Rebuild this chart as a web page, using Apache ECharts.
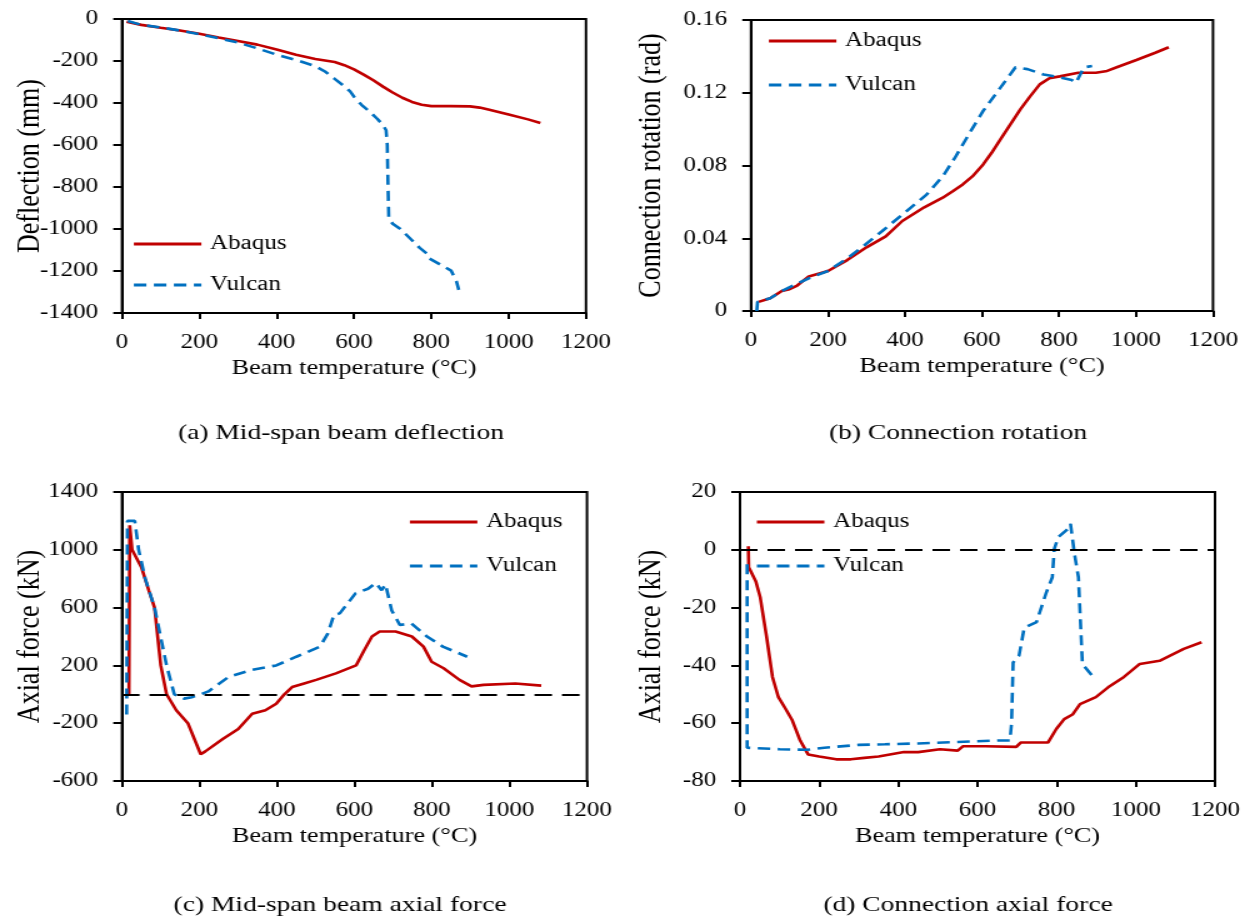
<!DOCTYPE html>
<html>
<head>
<meta charset="utf-8">
<script src="https://cdn.jsdelivr.net/npm/echarts@6/dist/echarts.min.js"></script>
<style>
  html, body { margin: 0; padding: 0; background: #fff; overflow: hidden; }
  /* the source figure is stretched sideways, so draw narrow and stretch */
  #chart { height: 922px; transform-origin: 0 0; }
</style>
</head>
<body>
<div id="chart"></div>
<script>
// (a) mid-span beam deflection
const defAbaqusT = [12, 50, 100, 150, 200, 250, 300, 350, 400, 450, 500, 550, 575, 600, 625, 650, 675, 700, 725, 750, 775, 800, 850, 900, 925, 950, 1000, 1050, 1082]
const defAbaqusV = [-13, -28, -42, -55, -70, -88, -105, -122, -145, -170, -190, -205, -220, -240, -265, -292, -322, -350, -375, -395, -408, -415, -415, -416, -422, -432, -455, -478, -495]
const defVulcanT = [15, 50, 100, 150, 200, 250, 300, 350, 400, 450, 500, 525, 550, 575, 590, 600, 620, 640, 660, 675, 683, 686, 688, 690, 700, 720, 748, 770, 789, 794, 820, 851, 865, 871]
const defVulcanV = [-10, -28, -40, -55, -72, -92, -112, -140, -170, -195, -225, -250, -285, -320, -345, -370, -410, -440, -475, -505, -530, -600, -800, -950, -975, -1000, -1050, -1090, -1118, -1140, -1166, -1198, -1250, -1290]

// (b) connection rotation
const rotAbaqusT = [20, 50, 80, 100, 120, 150, 200, 250, 300, 350, 393, 450, 498, 525, 550, 575, 603, 625, 650, 675, 700, 725, 750, 775, 802, 850, 896, 925, 950, 1001, 1050, 1085]
const rotAbaqusV = [0.005, 0.007, 0.011, 0.012, 0.014, 0.019, 0.022, 0.028, 0.035, 0.041, 0.0495, 0.057, 0.0623, 0.066, 0.0696, 0.074, 0.0806, 0.087, 0.095, 0.103, 0.111, 0.118, 0.1246, 0.128, 0.129, 0.131, 0.131, 0.132, 0.134, 0.138, 0.142, 0.145]
const rotVulcanT = [15, 17, 50, 80, 150, 200, 250, 288, 341, 393, 456, 498, 529, 571, 603, 645, 687, 718, 760, 791, 833, 844, 865, 886]
const rotVulcanV = [0, 0.005, 0.007, 0.011, 0.018, 0.022, 0.029, 0.035, 0.044, 0.053, 0.064, 0.074, 0.084, 0.099, 0.110, 0.122, 0.134, 0.133, 0.130, 0.129, 0.127, 0.1255, 0.134, 0.1347]

// (c) mid-span beam axial force
const beamAbaqusT = [18, 20, 26, 50, 69, 84, 100, 115, 140, 170, 203, 215, 260, 300, 336, 370, 398, 419, 439, 470, 501, 552, 604, 624, 645, 665, 706, 748, 778, 799, 830, 871, 902, 933, 1015, 1082]
const beamAbaqusV = [0, 1170, 1000, 880, 720, 600, 200, 0, -110, -200, -415, -395, -310, -240, -135, -110, -65, 0, 50, 75, 100, 145, 200, 300, 400, 435, 435, 400, 330, 225, 180, 100, 55, 65, 75, 60]
const beamVulcanT = [12, 14, 33, 43, 60, 84, 115, 135, 160, 180, 203, 223, 275, 336, 398, 450, 511, 531, 547, 562, 603, 635, 655, 670, 680, 696, 717, 747, 787, 828, 891]
const beamVulcanV = [-140, 1200, 1200, 1000, 800, 600, 200, 0, -30, -20, 0, 20, 120, 170, 200, 260, 330, 420, 550, 560, 700, 730, 770, 720, 760, 580, 480, 490, 400, 330, 260]

// (d) connection axial force
const conAbaqusT = [21, 22, 40, 51, 67, 82, 97, 115, 132, 152, 172, 200, 243, 280, 314, 350, 414, 450, 505, 550, 563, 620, 698, 709, 750, 778, 799, 819, 840, 859, 899, 930, 970, 1010, 1060, 1121, 1166]
const conAbaqusV = [1.2, -6, -11, -16.4, -30, -44, -51, -55, -59, -66, -70.8, -71.5, -72.5, -72.5, -72, -71.5, -70, -70, -69, -69.5, -68, -68, -68.2, -66.7, -66.7, -66.7, -62, -58.6, -57, -53.4, -51, -47.6, -44, -39.5, -38.4, -34.3, -32]
const conVulcanT = [18, 18, 100, 170, 213, 300, 366, 450, 550, 650, 682, 686, 690, 705, 718, 749, 774, 789, 794, 804, 829, 835, 845, 855, 865, 890]
const conVulcanV = [-5, -68.5, -69, -69.2, -68.5, -67.5, -67.3, -67, -66.5, -66, -66, -60, -39, -36.6, -27, -25, -14.7, -9.5, 0.3, 4.4, 7.3, 9, -1.4, -9.5, -39.5, -43.6]

const seriesNames = ['Abaqus', 'Vulcan']
const xTitle = 'Beam temperature (°C)'
const yTitles = ['Deflection (mm)', 'Connection rotation (rad)', 'Axial force (kN)', 'Axial force (kN)']
const captions = ['(a) Mid-span beam deflection', '(b) Connection rotation', '(c) Mid-span beam axial force', '(d) Connection axial force']

const SX = 1.25
const W = 1252 / SX
const FONT = 'Liberation Serif'
const RED = '#C00000'
const BLUE = '#0070C0'

const el = document.getElementById('chart')
el.style.width = W + 'px'
el.style.transform = 'scaleX(' + SX + ')'

const zip = (a, b) => a.map((t, i) => [t, b[i]])
const gx = x => x / SX   // reference pixels -> chart pixels
const plain = v => String(+v.toFixed(4))   // no thousands separator

// plot boxes measured on the reference, in reference pixels
const boxes = [
  { l: 122, r: 586, t: 19, b: 313, ymin: -1400, ymax: 0, step: 200, gap: 60 },
  { l: 751, r: 1213, t: 20, b: 311, ymin: 0, ymax: 0.16, step: 0.04, gap: 67 },
  { l: 122, r: 587, t: 492, b: 781, ymin: -600, ymax: 1400, step: 400, gap: 60 },
  { l: 740, r: 1215, t: 492, b: 781, ymin: -80, ymax: 20, step: 20, gap: 58 },
]

const grid = boxes.map(p => ({
  left: gx(p.l), top: p.t, width: gx(p.r - p.l), height: p.b - p.t,
  show: true, borderColor: '#000', borderWidth: 2, containLabel: false
}))

const xAxis = boxes.map((p, i) => ({
  gridIndex: i, type: 'value', min: 0, max: 1200, interval: 200,
  name: xTitle, nameLocation: 'middle', nameGap: 45, nameMoveOverlap: false,
  nameTextStyle: { fontFamily: FONT, fontSize: 21, color: '#000' },
  axisLine: { onZero: false, lineStyle: { color: '#000', width: 2 } },
  axisTick: { inside: false, length: 6, lineStyle: { color: '#000', width: 2 } },
  axisLabel: { fontFamily: FONT, fontSize: 20, color: '#000', margin: 20, formatter: plain },
  splitLine: { show: false }
}))

const yAxis = boxes.map((p, i) => ({
  gridIndex: i, type: 'value', min: p.ymin, max: p.ymax, interval: p.step,
  name: yTitles[i], nameLocation: 'middle', nameGap: p.gap, nameMoveOverlap: false,
  nameTextStyle: { fontFamily: FONT, fontSize: 26, color: '#000' },
  axisLine: { onZero: false, lineStyle: { color: '#000', width: 2 } },
  axisTick: { inside: false, length: 7, lineStyle: { color: '#000', width: 2 } },
  axisLabel: { fontFamily: FONT, fontSize: 20, color: '#000', margin: 19, formatter: plain },
  splitLine: { show: false }
}))

const zeroLine = {
  silent: true, symbol: 'none', label: { show: false },
  lineStyle: { color: '#000', type: [14, 8], width: 2 },
  data: [{ yAxis: 0 }]
}

function pair(idx, a, v) {
  return [
    {
      name: 'Abaqus', type: 'line', xAxisIndex: idx, yAxisIndex: idx,
      data: a, symbol: 'none', z: 3,
      lineStyle: { color: RED, width: 2.6 }, itemStyle: { color: RED }
    },
    {
      name: 'Vulcan', type: 'line', xAxisIndex: idx, yAxisIndex: idx,
      data: v, symbol: 'none', z: 4,
      lineStyle: { color: BLUE, width: 2.6, type: [10, 6] }, itemStyle: { color: BLUE }
    }
  ]
}

const series = [
  ...pair(0, zip(defAbaqusT, defAbaqusV), zip(defVulcanT, defVulcanV)),
  ...pair(1, zip(rotAbaqusT, rotAbaqusV), zip(rotVulcanT, rotVulcanV)),
  ...pair(2, zip(beamAbaqusT, beamAbaqusV), zip(beamVulcanT, beamVulcanV)),
  ...pair(3, zip(conAbaqusT, conAbaqusV), zip(conVulcanT, conVulcanV)),
]
series[4].markLine = zeroLine
series[6].markLine = zeroLine

// legend spots (left end of the line, top of first row) in reference pixels
const legendSpots = [[132, 234, 21], [767, 31, 24], [408, 512, 24], [755, 512, 24]]
const legend = legendSpots.map(s => ({
  data: seriesNames, orient: 'vertical', left: gx(s[0]), top: s[1],
  itemGap: s[2], itemWidth: 54, itemHeight: 14, selectedMode: false,
  padding: 0, itemStyle: { opacity: 0 },
  lineStyle: { width: 3 },
  textStyle: { fontFamily: FONT, fontSize: 20, color: '#000', padding: [0, 0, 0, 2] }
}))

const captionSpots = [[341, 433], [958, 433], [340, 905], [968, 905]]
const graphic = captions.map((c, i) => ({
  type: 'text', x: gx(captionSpots[i][0]), y: captionSpots[i][1],
  style: {
    text: c, fontFamily: FONT, fontSize: 22, fill: '#000',
    textAlign: 'center', textVerticalAlign: 'middle'
  }
}))

const chart = echarts.init(el, null, { renderer: 'canvas' })
chart.setOption({
  animation: false,
  backgroundColor: '#fff',
  grid, xAxis, yAxis, series, legend, graphic
})
</script>
</body>
</html>
